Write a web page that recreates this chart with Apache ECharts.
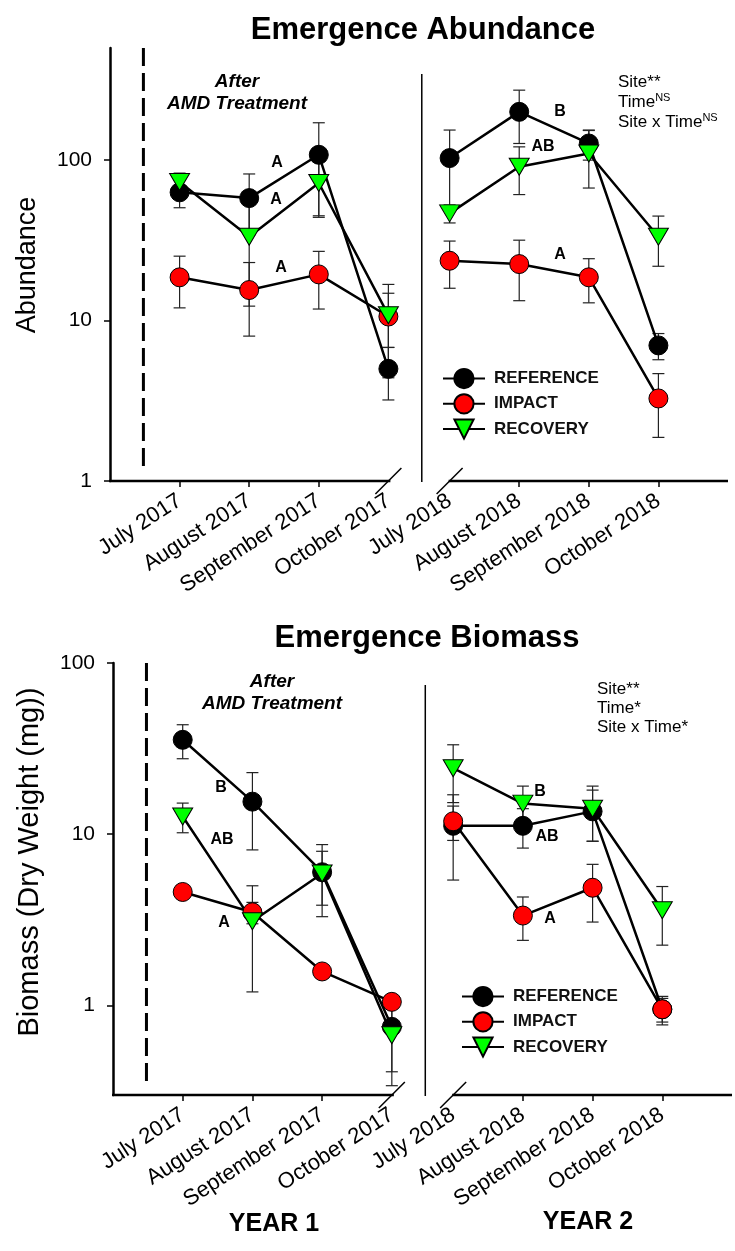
<!DOCTYPE html>
<html>
<head>
<meta charset="utf-8">
<script src="https://cdn.jsdelivr.net/npm/echarts@6/dist/echarts.min.js"></script>
<style>
  html, body { margin: 0; padding: 0; background: #ffffff; }
  #chart { width: 735px; height: 1251px; }
</style>
</head>
<body>
<div id="chart"></div>
<script>
// Sampling months (two field seasons)
const months = ['July 2017', 'August 2017', 'September 2017', 'October 2017',
                'July 2018', 'August 2018', 'September 2018', 'October 2018'];

// Emergence abundance: means and standard errors per site
const abundanceReference   = [63, 58, 108, 5.0, 103, 200, 127, 7.0];
const abundanceReferenceSE = [12.5, 24, 63, 1.8, 51, 73, 27, 1.3];
const abundanceImpact      = [18.6, 15.5, 19.4, 10.6, 23.6, 22.5, 18.6, 3.27];
const abundanceImpactSE    = [6.6, 7.5, 7.6, 6.2, 7.7, 9.2, 5.7, 1.4];
const abundanceRecovery    = [73, 33.3, 72, 10.8, 46.6, 91, 110, 33.3];
const abundanceRecoverySE  = [10, 21, 28, 4, 6, 30, 43, 11.5];

// Emergence biomass (dry weight, mg): means and standard errors per site
const biomassReference   = [35.6, 15.5, 6.0, 0.75, 11.2, 11.2, 13.6, 0.95];
const biomassReferenceSE = [8, 7.4, 2.7, 0.34, 5.8, 2.9, 4.5, 0.15];
const biomassImpact      = [4.6, 3.5, 1.58, 1.05, 11.9, 3.35, 4.87, 0.95];
const biomassImpactSE    = [0.3, 0.5, 0.1, 0.08, 2.7, 0.95, 1.8, 0.18];
const biomassRecovery    = [12.7, 3.1, 5.9, 0.67, 24.3, 15.1, 14.1, 3.6];
const biomassRecoverySE  = [2.5, 1.9, 2.05, 0.33, 9, 4, 5, 1.35];

// Axis tick labels
const yTickValues = [1, 10, 100];
const siteNames = ['REFERENCE', 'IMPACT', 'RECOVERY'];

const FONT = "'Liberation Sans', Arial, Helvetica, sans-serif";

// Horizontal layout: one unit per month, year 2 pulled slightly left of a full step
const X_MAX = 8.88;
const xPos = i => i + 1 - (i >= 4 ? 0.12 : 0);
const GAP_X = 4.44;   // line break between the two seasons
const SEP_X = 4.48;   // vertical separator between the seasons
const DASH_X = 0.48;  // treatment marker

const grids = [
  { left: 110, top: 48, width: 618, height: 433 },
  { left: 113, top: 663, width: 619, height: 432 }
];
const yRanges = [[1, 500], [0.3, 100]];

const siteStyle = {
  REFERENCE: { symbol: 'circle', symbolSize: 19, rotate: 0, fill: '#000000' },
  IMPACT:    { symbol: 'circle', symbolSize: 19, rotate: 0, fill: '#ff0000' },
  RECOVERY:  { symbol: 'triangle', symbolSize: [20, 17], rotate: 180, fill: '#00ff00' }
};

function lineData(means) {
  const out = [];
  means.forEach((v, i) => {
    if (i === 4) out.push([GAP_X, null]);
    out.push([xPos(i), v]);
  });
  return out;
}

function lineSeries(g, name, means) {
  const s = siteStyle[name];
  return {
    type: 'line', name, xAxisIndex: g, yAxisIndex: g, z: 3,
    data: lineData(means),
    connectNulls: false,
    symbol: s.symbol, symbolSize: s.symbolSize, symbolRotate: s.rotate,
    showSymbol: true,
    lineStyle: { color: '#000000', width: 2.5 },
    itemStyle: { color: s.fill, borderColor: '#000000', borderWidth: 1 },
    emphasis: { disabled: true },
    animation: false
  };
}

function errorSeries(g, means, ses) {
  return {
    type: 'custom', xAxisIndex: g, yAxisIndex: g, z: 1, silent: true,
    data: means.map((m, i) => [xPos(i), m - ses[i], m + ses[i]]),
    encode: { x: 0, y: [1, 2] },
    renderItem: function (params, api) {
      const x = api.value(0);
      const lo = api.coord([x, api.value(1)]);
      const hi = api.coord([x, api.value(2)]);
      const hw = 6;
      const st = { stroke: '#222222', lineWidth: 1.2 };
      return {
        type: 'group',
        children: [
          { type: 'line', shape: { x1: lo[0], y1: lo[1], x2: hi[0], y2: hi[1] }, style: st },
          { type: 'line', shape: { x1: lo[0] - hw, y1: lo[1], x2: lo[0] + hw, y2: lo[1] }, style: st },
          { type: 'line', shape: { x1: hi[0] - hw, y1: hi[1], x2: hi[0] + hw, y2: hi[1] }, style: st }
        ]
      };
    },
    animation: false
  };
}

function xAxisFor(g) {
  return {
    type: 'value', gridIndex: g, min: 0, max: X_MAX,
    axisLine: { show: false },
    splitLine: { show: false },
    axisTick: {
      show: true, length: 6, inside: false,
      customValues: [xPos(0), xPos(1), xPos(2), xPos(5), xPos(6), xPos(7)],
      lineStyle: { color: '#000000', width: 1.5 }
    },
    axisLabel: {
      show: true,
      customValues: months.map((m, i) => xPos(i)),
      formatter: v => {
        const idx = months.findIndex((m, i) => Math.abs(xPos(i) - v) < 0.01);
        return idx >= 0 ? months[idx] : '';
      },
      rotate: 33, margin: 18,
      fontSize: 22, color: '#000000', fontFamily: FONT
    }
  };
}

function yAxisFor(g) {
  return {
    type: 'log', logBase: 10, gridIndex: g,
    min: yRanges[g][0], max: yRanges[g][1],
    axisLine: { show: true, lineStyle: { color: '#000000', width: 2.5 } },
    splitLine: { show: false },
    axisTick: {
      show: true, length: 6, inside: false, customValues: yTickValues,
      lineStyle: { color: '#000000', width: 1.5 }
    },
    axisLabel: {
      show: true, customValues: yTickValues, margin: 18,
      formatter: v => String(v),
      fontSize: 21, color: '#000000', fontFamily: FONT
    }
  };
}

function legendFor(left, top) {
  return {
    data: siteNames, orient: 'vertical', left, top,
    itemWidth: 42, itemHeight: 24, itemGap: 4,
    symbolRotate: 'inherit',
    selectedMode: false,
    textStyle: { fontSize: 17, fontWeight: 'bold', color: '#111111', fontFamily: FONT, padding: [0, 0, 0, 4] }
  };
}

const series = [
  errorSeries(0, abundanceReference, abundanceReferenceSE),
  errorSeries(0, abundanceImpact, abundanceImpactSE),
  errorSeries(0, abundanceRecovery, abundanceRecoverySE),
  lineSeries(0, 'REFERENCE', abundanceReference),
  lineSeries(0, 'IMPACT', abundanceImpact),
  lineSeries(0, 'RECOVERY', abundanceRecovery),
  errorSeries(1, biomassReference, biomassReferenceSE),
  errorSeries(1, biomassImpact, biomassImpactSE),
  errorSeries(1, biomassRecovery, biomassRecoverySE),
  lineSeries(1, 'REFERENCE', biomassReference),
  lineSeries(1, 'IMPACT', biomassImpact),
  lineSeries(1, 'RECOVERY', biomassRecovery)
];

const chart = echarts.init(document.getElementById('chart'), null, { renderer: 'canvas' });
chart.setOption({
  animation: false,
  backgroundColor: '#ffffff',
  title: [
    { text: 'Emergence Abundance', left: 418, top: 25, textAlign: 'center', textVerticalAlign: 'middle',
      textStyle: { fontSize: 31, fontWeight: 'bold', color: '#000000', fontFamily: FONT } },
    { text: 'Emergence Biomass', left: 422, top: 633, textAlign: 'center', textVerticalAlign: 'middle',
      textStyle: { fontSize: 31, fontWeight: 'bold', color: '#000000', fontFamily: FONT } }
  ],
  grid: grids,
  xAxis: [xAxisFor(0), xAxisFor(1)],
  yAxis: [yAxisFor(0), yAxisFor(1)],
  legend: [legendFor(437, 363), legendFor(456, 981)],
  series
});

// Decorations: broken x axis, season separator, treatment line and annotations
const px = (g, x, y) => chart.convertToPixel({ gridIndex: g }, [x, y]);
const sepTopOffset = [26, 22];
const graphics = [];
const line = (x1, y1, x2, y2, w, dash) => ({
  type: 'line', silent: true, z: 10,
  shape: { x1, y1, x2, y2 },
  style: { stroke: '#000000', lineWidth: w, lineDash: dash || null }
});
const text = (str, x, y, opts) => ({
  type: 'text', silent: true, z: 10, x, y, rotation: (opts && opts.rotation) || 0,
  style: Object.assign({
    text: str, fill: '#000000', fontFamily: FONT, fontSize: 16, fontWeight: 'bold',
    align: 'center', verticalAlign: 'middle'
  }, opts && opts.style)
});

[0, 1].forEach(g => {
  const yMin = yRanges[g][0];
  const a = px(g, 0, yMin), b = px(g, xPos(3), yMin), c = px(g, xPos(4), yMin), d = px(g, X_MAX, yMin);
  graphics.push(line(a[0] - 1, a[1], b[0] + 2, b[1], 2.5));
  graphics.push(line(c[0] - 1, c[1], d[0], d[1], 2.5));
  graphics.push(line(b[0] - 13, b[1] + 13, b[0] + 13, b[1] - 13, 1.5));
  graphics.push(line(c[0] - 13, c[1] + 13, c[0] + 13, c[1] - 13, 1.5));
  const sx = px(g, SEP_X, yMin)[0];
  graphics.push(line(sx, grids[g].top + sepTopOffset[g], sx, a[1] + 1, 1.5));
  const dx = px(g, DASH_X, yMin)[0];
  graphics.push(line(dx, grids[g].top, dx, a[1] - 8, 3, [18, 7]));
});

// Axis titles
graphics.push(text('Abundance', 28, 265, { rotation: Math.PI / 2, style: { fontSize: 27, fontWeight: 'normal' } }));
graphics.push(text('Biomass (Dry Weight (mg))', 30, 862, { rotation: Math.PI / 2, style: { fontSize: 29, fontWeight: 'normal' } }));
graphics.push(text('YEAR 1', 274, 1224, { style: { fontSize: 25 } }));
graphics.push(text('YEAR 2', 588, 1222, { style: { fontSize: 25 } }));

// Treatment note
const noteStyle = { fontSize: 19, fontStyle: 'italic', fontWeight: 'bold' };
graphics.push(text('After', 237, 82, { style: noteStyle }));
graphics.push(text('AMD Treatment', 237, 104, { style: noteStyle }));
graphics.push(text('After', 272, 682, { style: noteStyle }));
graphics.push(text('AMD Treatment', 272, 704, { style: noteStyle }));

// Post-hoc groupings
[['A', 277, 163], ['A', 276, 200], ['A', 281, 268], ['B', 560, 112], ['AB', 543, 147], ['A', 560, 255],
 ['B', 221, 788], ['AB', 222, 840], ['A', 224, 923], ['B', 540, 792], ['AB', 547, 837], ['A', 550, 919]]
  .forEach(t => graphics.push(text(t[0], t[1], t[2], { style: { fontSize: 16 } })));

// ANOVA results
const statStyle = () => ({
  fontSize: 17, fontWeight: 'normal', align: 'left',
  rich: { sup: { fontSize: 11, fontFamily: FONT, verticalAlign: 'top', padding: [0, 0, 9, 0] } }
});
[['Site**', 618, 82], ['Time{sup|NS}', 618, 102], ['Site x Time{sup|NS}', 618, 122],
 ['Site**', 597, 689], ['Time*', 597, 708], ['Site x Time*', 597, 727]]
  .forEach(t => graphics.push(text(t[0], t[1], t[2], { style: statStyle() })));

chart.setOption({ graphic: graphics });
</script>
</body>
</html>
